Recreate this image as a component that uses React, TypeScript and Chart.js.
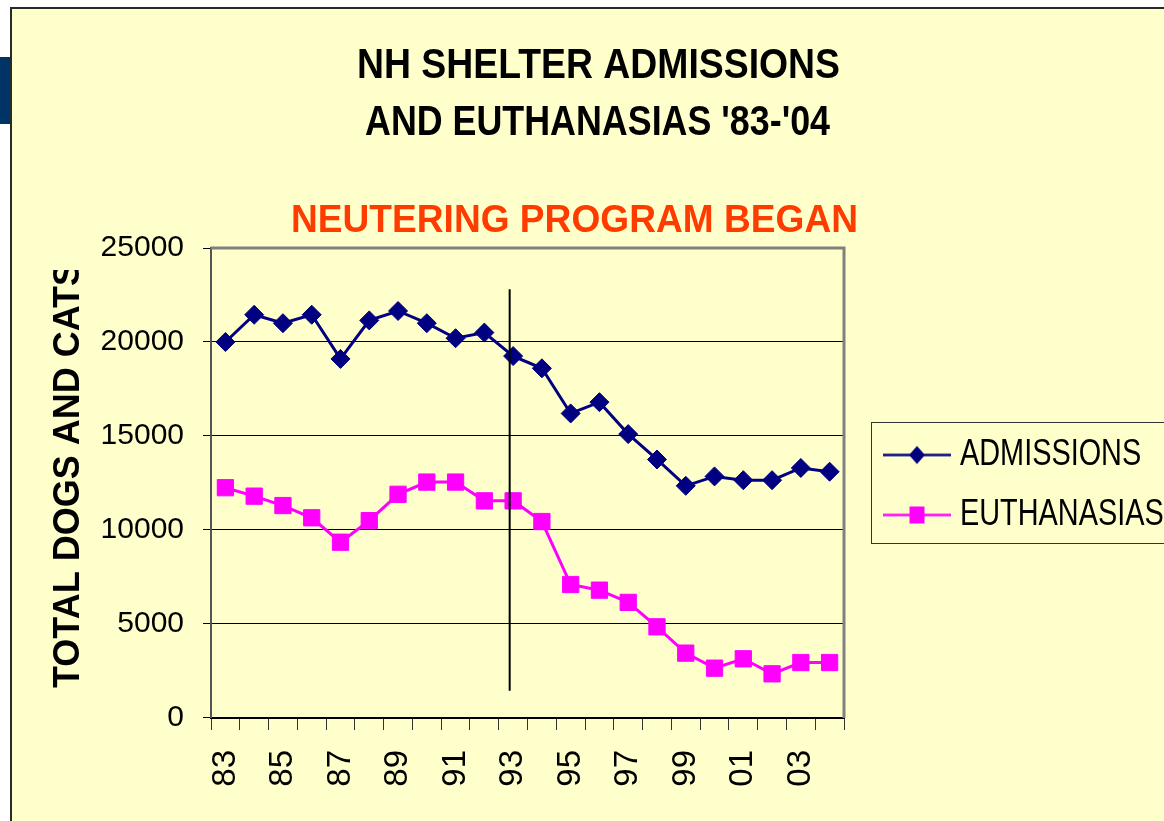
import React, { useEffect, useRef } from 'react';
import { Chart, registerables } from 'chart.js';

Chart.register(...registerables);

// ---------- data ----------
const YEARS = ['83', '84', '85', '86', '87', '88', '89', '90', '91', '92', '93', '94', '95', '96', '97', '98', '99', '00', '01', '02', '03', '04'];
const ADMISSIONS = [20000, 21450, 21000, 21450, 19100, 21150, 21650, 21000, 20200, 20500, 19250, 18600, 16200, 16800, 15100, 13750, 12350, 12850, 12650, 12650, 13300, 13100];
const EUTHANASIAS = [12250, 11800, 11300, 10650, 9350, 10500, 11900, 12550, 12550, 11550, 11550, 10450, 7100, 6800, 6150, 4850, 3450, 2650, 3150, 2350, 2950, 2950];
const SERIES_NAMES = ['ADMISSIONS', 'EUTHANASIAS'];
const Y_MIN = 0;
const Y_MAX = 25000;
const Y_STEP = 5000;
const TITLE_LINES = ['NH SHELTER ADMISSIONS', "AND EUTHANASIAS '83-'04"];
const SUBTITLE = 'NEUTERING PROGRAM BEGAN';
const Y_TITLE = 'TOTAL DOGS AND CATS';
// marker line for the start of the neutering program (category position, value range)
const PROGRAM_START_POS = 9.88;
const PROGRAM_LINE_VALUES = [1450, 22800];

// ---------- styles ----------
const FONT = '"Liberation Sans", Arial, Helvetica, sans-serif';
const YELLOW = '#FFFFCC';
const NAVY = '#000080';
const MAGENTA = '#FF00FF';
const LEGEND_FONT_SIZE = 36;
const LEGEND_BOX_W = 74;
const LEGEND_TEXT_SCALE = 0.78;

function makeLegendIcon(color: string, shape: 'diamond' | 'square'): HTMLCanvasElement {
  const c = document.createElement('canvas');
  c.width = 92;
  c.height = 30;
  const g = c.getContext('2d') as CanvasRenderingContext2D;
  const cy = 17.5;
  g.strokeStyle = color;
  g.lineWidth = 2.5;
  g.beginPath();
  g.moveTo(24, cy);
  g.lineTo(92, cy);
  g.stroke();
  g.fillStyle = color;
  if (shape === 'diamond') {
    g.beginPath();
    g.moveTo(58, cy - 9);
    g.lineTo(66, cy);
    g.lineTo(58, cy + 9);
    g.lineTo(50, cy);
    g.closePath();
    g.fill();
  } else {
    g.fillRect(50.5, cy - 8.5, 15, 17);
  }
  return c;
}

function drawFitted(ctx: CanvasRenderingContext2D, text: string, cx: number, baseline: number, width: number, font: string, color: string) {
  ctx.save();
  ctx.font = font;
  ctx.fillStyle = color;
  ctx.textAlign = 'center';
  ctx.textBaseline = 'alphabetic';
  const w = ctx.measureText(text).width;
  ctx.translate(cx, baseline);
  ctx.scale(width / w, 1);
  ctx.fillText(text, 0, 0);
  ctx.restore();
}

const slidePlugin = {
  id: 'slide',
  beforeDraw(chart: any) {
    const ctx = chart.ctx as CanvasRenderingContext2D;
    const W = chart.width;
    const H = chart.height;
    ctx.save();
    ctx.fillStyle = '#ffffff';
    ctx.fillRect(0, 0, W, H);
    ctx.fillStyle = YELLOW;
    ctx.fillRect(11, 8, W - 11, H - 8);
    ctx.strokeStyle = '#2a2a2a';
    ctx.lineWidth = 2;
    ctx.beginPath();
    ctx.moveTo(11, H);
    ctx.lineTo(11, 8);
    ctx.lineTo(W, 8);
    ctx.stroke();
    ctx.fillStyle = '#003366';
    ctx.fillRect(0, 57, 10, 67);
    ctx.restore();
  },
  beforeDatasetsDraw(chart: any) {
    const ctx = chart.ctx as CanvasRenderingContext2D;
    const xs = chart.scales.x;
    const ys = chart.scales.y;
    ctx.save();
    ctx.strokeStyle = '#808080';
    ctx.lineWidth = 3;
    ctx.beginPath();
    ctx.moveTo(xs.left, ys.top);
    ctx.lineTo(xs.right, ys.top);
    ctx.lineTo(xs.right, ys.bottom);
    ctx.stroke();
    ctx.restore();
  },
  afterDatasetsDraw(chart: any) {
    const ctx = chart.ctx as CanvasRenderingContext2D;
    const xs = chart.scales.x;
    const ys = chart.scales.y;
    const x = xs.getPixelForValue(PROGRAM_START_POS);
    ctx.save();
    ctx.strokeStyle = '#000';
    ctx.lineWidth = 2;
    ctx.beginPath();
    ctx.moveTo(x, ys.getPixelForValue(PROGRAM_LINE_VALUES[1]));
    ctx.lineTo(x, ys.getPixelForValue(PROGRAM_LINE_VALUES[0]));
    ctx.stroke();
    ctx.restore();
  },
  afterDraw(chart: any) {
    const ctx = chart.ctx as CanvasRenderingContext2D;
    // titles
    drawFitted(ctx, TITLE_LINES[0], 598.5, 78, 483, `bold 42px ${FONT}`, '#000');
    drawFitted(ctx, TITLE_LINES[1], 597.5, 135, 465, `bold 42px ${FONT}`, '#000');
    drawFitted(ctx, SUBTITLE, 574.5, 232, 567, `bold 39px ${FONT}`, '#FF3C00');
    // y axis title (clipped like the original)
    ctx.save();
    ctx.beginPath();
    ctx.rect(0, 270, 200, chart.height);
    ctx.clip();
    ctx.translate(79, 688);
    ctx.rotate(-Math.PI / 2);
    ctx.font = `bold 36px ${FONT}`;
    ctx.fillStyle = '#000';
    ctx.textAlign = 'left';
    ctx.textBaseline = 'alphabetic';
    ctx.fillText(Y_TITLE, 0, 0);
    ctx.restore();
    // legend frame and condensed legend texts
    const lg = chart.legend;
    if (lg && lg.legendHitBoxes && lg.legendHitBoxes.length) {
      const hb = lg.legendHitBoxes;
      const first = hb[0];
      const last = hb[hb.length - 1];
      const top = first.top - 12.5;
      const bottom = last.top + last.height + 12.5;
      const left = first.left + 3;
      ctx.save();
      ctx.strokeStyle = '#333';
      ctx.lineWidth = 1;
      ctx.strokeRect(Math.round(left) + 0.5, Math.round(top) + 0.5, chart.width, Math.round(bottom - top));
      ctx.restore();
      lg.legendItems.forEach((item: any, i: number) => {
        const box = hb[i];
        ctx.save();
        ctx.font = `normal 37px ${FONT}`;
        ctx.fillStyle = '#000';
        ctx.textAlign = 'left';
        ctx.textBaseline = 'alphabetic';
        ctx.translate(box.left + LEGEND_BOX_W + LEGEND_FONT_SIZE / 2, box.top + 30);
        ctx.scale(LEGEND_TEXT_SCALE, 1);
        ctx.fillText(item.text, 0, 0);
        ctx.restore();
      });
    }
  },
};

export default function App() {
  const ref = useRef<HTMLCanvasElement | null>(null);

  useEffect(() => {
    if (!ref.current) return;
    Chart.defaults.font.family = FONT;
    const icons = [makeLegendIcon(NAVY, 'diamond'), makeLegendIcon(MAGENTA, 'square')];
    const chart = new Chart(ref.current, {
      type: 'line',
      data: {
        labels: YEARS,
        datasets: [
          {
            label: SERIES_NAMES[0],
            data: ADMISSIONS,
            borderColor: NAVY,
            backgroundColor: NAVY,
            borderWidth: 3,
            pointStyle: 'rectRot',
            pointRadius: 9.5,
            pointBackgroundColor: NAVY,
            pointBorderColor: NAVY,
            pointBorderWidth: 1,
            tension: 0,
            fill: false,
          },
          {
            label: SERIES_NAMES[1],
            data: EUTHANASIAS,
            borderColor: MAGENTA,
            backgroundColor: MAGENTA,
            borderWidth: 3,
            pointStyle: 'rect',
            pointRadius: 11.5,
            pointBackgroundColor: MAGENTA,
            pointBorderColor: MAGENTA,
            pointBorderWidth: 1,
            tension: 0,
            fill: false,
          },
        ],
      },
      options: {
        responsive: false,
        maintainAspectRatio: false,
        animation: false,
        devicePixelRatio: 1,
        layout: { autoPadding: false, padding: { left: 81.6, top: 248, right: 0, bottom: 14.3 } },
        plugins: {
          title: { display: false },
          tooltip: { enabled: false },
          legend: {
            display: true,
            position: 'right',
            align: 'start',
            fullSize: true,
            maxWidth: 330,
            title: {
              display: true,
              text: ' ',
              color: 'rgba(0,0,0,0)',
              font: { size: 10, lineHeight: 1.2 },
              padding: { top: 75.25, bottom: 75.25 },
            },
            labels: {
              usePointStyle: true,
              pointStyleWidth: LEGEND_BOX_W,
              padding: 24,
              color: 'rgba(0,0,0,0)',
              font: { family: FONT, size: LEGEND_FONT_SIZE },
              generateLabels: (c: any) =>
                c.data.datasets.map((ds: any, i: number) => ({
                  text: ds.label,
                  pointStyle: icons[i],
                  fillStyle: ds.borderColor,
                  strokeStyle: ds.borderColor,
                  lineWidth: 0,
                  hidden: false,
                  datasetIndex: i,
                  fontColor: 'rgba(0,0,0,0)',
                })),
            },
          },
        },
        scales: {
          x: {
            type: 'category',
            offset: true,
            afterFit: (s: any) => {
              s.paddingLeft = 0;
              s.paddingRight = 0;
            },
            grid: {
              display: true,
              drawOnChartArea: false,
              drawTicks: true,
              tickLength: 12,
              color: '#333',
              lineWidth: 1,
              offset: true,
            },
            border: { display: true, color: '#000', width: 2 },
            ticks: {
              autoSkip: false,
              minRotation: 90,
              maxRotation: 90,
              padding: 20,
              color: '#000',
              font: { family: FONT, size: 33 },
              callback: (_v: any, i: number) => (i % 2 === 0 ? YEARS[i] : ''),
            },
          },
          y: {
            min: Y_MIN,
            max: Y_MAX,
            ticks: {
              stepSize: Y_STEP,
              padding: 19,
              color: '#000',
              font: { family: FONT, size: 30 },
              callback: (v: any) => String(v),
            },
            grid: { color: '#000', lineWidth: 1, tickLength: 8 },
            border: { display: true, color: '#555', width: 2 },
          },
        },
      },
      plugins: [slidePlugin],
    } as any);
    return () => chart.destroy();
  }, []);

  return (
    <div
      style={{
        position: 'fixed',
        left: 0,
        top: 0,
        width: 1164,
        height: 821,
        overflow: 'hidden',
        background: '#fff',
      }}
    >
      <canvas ref={ref} width={1174} height={821} style={{ display: 'block', width: 1174, height: 821 }} />
    </div>
  );
}
